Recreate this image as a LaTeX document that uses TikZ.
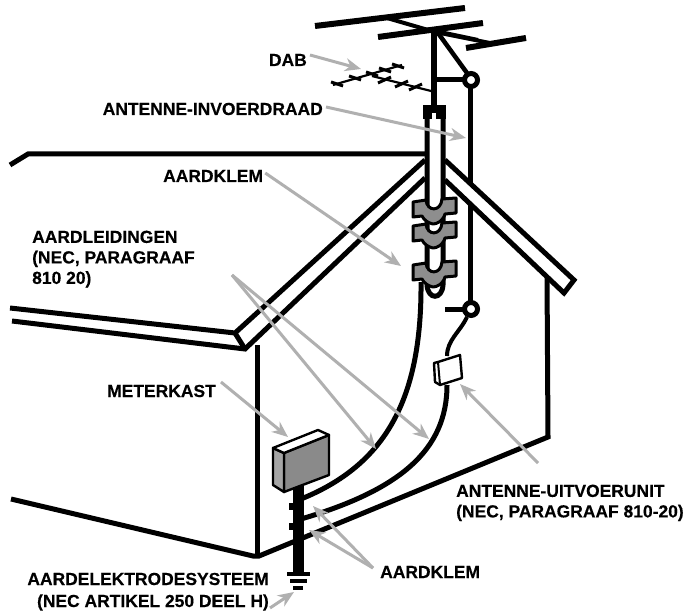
\documentclass[tikz,border=0pt]{standalone}
\usepackage{fontspec}
\setmainfont{Liberation Sans}[BoldFeatures={FakeBold=0.35}]
\usetikzlibrary{arrows.meta}
\definecolor{pointer}{HTML}{B0B0B0}
\definecolor{clampgrey}{HTML}{8E8E8E}
\definecolor{boxfront}{HTML}{8A8A8A}
\definecolor{boxside}{HTML}{A6A6A6}
\tikzset{
  x=1pt,y=-1pt,
  ink/.style={draw=black,line width=5pt,line join=miter},
  thin ink/.style={draw=black,line width=4pt},
  bar/.style={draw=black,line width=6pt},
  label text/.style={inner sep=0pt,font=\fontsize{17.45}{20.5}\selectfont\bfseries,align=left},
  pointer line/.style={draw=pointer,line width=3pt,-{Stealth[length=16pt,width=13pt,inset=5pt]}},
  yagi/.style={draw=black,line width=2.2pt},
  element/.style={draw=black,line width=3pt},
}
\newcommand{\clampshape}{%
  \path[fill=clampgrey,draw=black,line width=3pt,line join=round]
    (413,202) -- (426,200) .. controls (427,212) and (441,212) .. (442,199)
    -- (456,198) -- (456,213) -- (445,214) .. controls (443,221) and (437,224) .. (433,224)
    .. controls (428,223) and (424,220) .. (422,216) -- (413,217) -- cycle;
}
\begin{document}
\begin{tikzpicture}
\useasboundingbox (0,0) rectangle (687,612);
\fill[white] (0,0) rectangle (687,612);

% Named ends of the pointers
\coordinate (tipDab) at (361,69);
\coordinate (tipLead) at (466,138);
\coordinate (tipClampTop) at (401,266);
\coordinate (srcCond) at (232,275);
\coordinate (tipCondA) at (376,449);
\coordinate (tipCondB) at (429,439);
\coordinate (tipMeter) at (288,437);
\coordinate (srcClamp) at (373,568);
\coordinate (tipClampA) at (313,506);
\coordinate (tipClampB) at (309,530);
\coordinate (srcUnit) at (538,463);
\coordinate (tipUnit) at (460,384);
\coordinate (srcEarth) at (270,608);
\coordinate (tipEarth) at (294,592);

% House outline
\path[ink] (10,165) -- (28,154) -- (428,154);
\path[ink] (10,308) -- (235,333) -- (425,160);
\path[ink] (12,321) -- (245,349) -- (425,178);
\path[ink] (235,333) -- (245,349);
\path[ink] (257,345) -- (257,556);
\path[ink] (11,499) -- (253,556) -- (259,556) -- (548,437) -- (547,276);

% Lead-in wire from the upper standoff to the lower one
\path[ink] (470,80) -- (470,303);

% Right-hand rake, opaque so that it hides the wire
\path[fill=white,draw=black,line width=5pt,line join=miter]
  (445,160) -- (574,280) -- (564,293) -- (445,180);

% Roof-mounted aerial
\path[bar] (315,26) -- (465,8);
\path[bar] (378,37) -- (483,23);
\path[bar] (466,48) -- (526,38);
\path[thin ink] (387,18) -- (435,32) -- (490,43);
\path[thin ink] (440,32) -- (478,40);
\path[draw=black,line width=6.5pt] (434,31) -- (434,106);
\path[draw=black,line width=4.5pt] (438,33) -- (467,73);
\path[ink] (436,80) -- (465,80);
\path[fill=white,draw=black,line width=5pt] (471,80) circle[radius=6.5];

% DAB yagi
\path[yagi] (431,91) -- (372,76);
\path[yagi] (333,85) -- (402,65);
\foreach \ex/\ey in {337/84,355/78,372/74,385/70,398/66}
  \path[element] (\ex-6,\ey-2) -- (\ex+6,\ey+2);
\foreach \ex/\ey in {385/80,402/84,416/87}
  \path[element] (\ex-7,\ey+3) -- (\ex+6,\ey-3);

% Mast sleeve with its cap
\path[fill=white] (427,119) rectangle (443,295);
\path[draw=black,line width=5pt]
  (427,118) -- (427,285) .. controls (428,300) and (442,300) .. (443,285) -- (443,118);
\path[fill=black] (423,105) rectangle (446,119);
\path[fill=white] (432,113) rectangle (436,119);

% Clamps round the sleeve
\clampshape
\begin{scope}[yshift=-24pt]\clampshape\end{scope}
\begin{scope}[yshift=-63pt]\clampshape\end{scope}

% Lower standoff and drop to the discharge unit
\path[ink] (445,309) -- (465,309);
\path[fill=white,draw=black,line width=5pt] (471,309) circle[radius=6.5];
\path[thin ink] (467,317) .. controls (460,332) and (447,340) .. (447,356);

% Grounding conductors
\path[ink] (421,282) .. controls (422,400) and (385,465) .. (301,499);
\path[ink] (447,385) .. controls (447,450) and (400,490) .. (301,519);

% Antenna discharge unit
\path[fill=white,draw=black,line width=2.4pt,line join=round]
  (434,363) -- (438,362) -- (460,355) -- (462,378) -- (440,385) -- (435,382) -- cycle;
\path[draw=black,line width=2pt] (438,362) -- (440,385);

% Ground rod and electrode symbol
\path[draw=black,line width=11pt] (298,484) -- (298,574);
\path[fill=black] (289,503) rectangle (294,510);
\path[fill=black] (289,523) rectangle (294,530);
\path[draw=black,line width=4.5pt] (287,574) -- (310,574);
\path[draw=black,line width=4pt] (290,581) -- (307,581);
\path[draw=black,line width=4pt] (293,588) -- (303,588);

% Meter box
\path[fill=boxfront,draw=black,line width=2.4pt,line join=round]
  (284,453) -- (329,435) -- (329,475) -- (284,492) -- cycle;
\path[fill=boxside,draw=black,line width=2.4pt,line join=round]
  (273,448) -- (284,453) -- (284,492) -- (273,485) -- cycle;
\path[fill=white,draw=black,line width=2.4pt,line join=round]
  (273,448) -- (318,430) -- (329,435) -- (284,453) -- cycle;

% Labels
\node[label text,anchor=base east] (dab) at (307,66) {DAB};
\node[label text,anchor=base east] (leadin) at (323,115) {ANTENNE-INVOERDRAAD};
\node[label text,anchor=base west] (clamptop) at (163,182) {AARDKLEM};
\node[label text,anchor=north west] (conductors) at (32,230.5)
  {AARDLEIDINGEN\\(NEC, PARAGRAAF\\810 20)};
\node[label text,anchor=base west] (meter) at (107,397) {METERKAST};
\node[label text,anchor=north west] (unit) at (456,484.5)
  {ANTENNE-UITVOERUNIT\\(NEC, PARAGRAAF 810-20)};
\node[label text,anchor=base west] (clampbottom) at (380,578) {AARDKLEM};
\node[label text,anchor=base east] (electrode) at (269,585) {AARDELEKTRODESYSTEEM};
\node[label text,anchor=base east] (electrodeB) at (269,607) {(NEC ARTIKEL 250 DEEL H)};

% Pointers
\draw[pointer line] (dab.east) ++(3,-5) -- (tipDab);
\draw[pointer line] (leadin.east) ++(3,-2) -- (tipLead);
\draw[pointer line] (clamptop.east) ++(2,-3) -- (tipClampTop);
\draw[pointer line] (srcCond) -- (tipCondA);
\draw[pointer line] (srcCond) -- (tipCondB);
\draw[pointer line] (meter.east) ++(5,-9) -- (tipMeter);
\draw[pointer line] (srcClamp) -- (tipClampA);
\draw[pointer line] (srcClamp) -- (tipClampB);
\draw[pointer line] (srcUnit) -- (tipUnit);
\draw[pointer line] (srcEarth) -- (tipEarth);
\end{tikzpicture}
\end{document}
